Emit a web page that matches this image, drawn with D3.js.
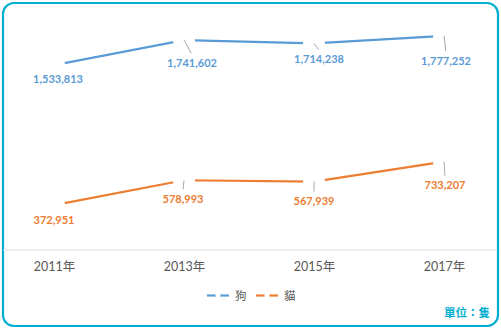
<!DOCTYPE html>
<html><head><meta charset="utf-8">
<script src="https://cdn.jsdelivr.net/npm/d3@7"></script>
<style>
html,body{margin:0;padding:0;background:#fff;}
svg{display:block;}
</style></head>
<body>
<svg id="chart" width="501" height="329"></svg>
<script>
const categories = ["2011年", "2013年", "2015年", "2017年"];
const dogValues = [1533813, 1741602, 1714238, 1777252];
const catValues = [372951, 578993, 567939, 733207];
const seriesNames = ["狗", "貓"];
const seriesColors = ["#5B9BD5", "#ED7D31"];
const unitLabel = "單位：隻";
// label offsets from data point (layout)
const dogLabelOffsets = [[4, 14], [8, 23], [5, 16], [2, 25]];
const catLabelOffsets = [[0, 15], [-1, 19], [0, 20], [1, 24]];

const svg = d3.select("#chart");
const W = 501, H = 329;
const fontLatin = "Lato, 'Noto Sans CJK TC', sans-serif";

svg.append("rect").attr("x", 3).attr("y", 3).attr("width", W - 6).attr("height", H - 6)
  .attr("rx", 11).attr("ry", 11).attr("fill", "#fff").attr("stroke", "#00AECF").attr("stroke-width", 2.2);

const x = d3.scalePoint().domain(categories).range([54, 444]);
const y = d3.scaleLinear().domain([0, 2000000]).range([250, 9]);

// axis baseline
svg.append("line").attr("x1", 3).attr("x2", 497).attr("y1", y(0)).attr("y2", y(0))
  .attr("stroke", "#D9D9D9").attr("stroke-width", 1);

const xAxis = d3.axisBottom(x).tickSize(0).tickPadding(12);
const gx = svg.append("g").attr("transform", `translate(0,${y(0)})`).call(xAxis);
gx.select(".domain").remove();
gx.selectAll("text").attr("font-family", fontLatin).attr("font-size", 12.5).attr("fill", "#595959");

const series = [
  {name: seriesNames[0], values: dogValues, color: seriesColors[0], offsets: dogLabelOffsets},
  {name: seriesNames[1], values: catValues, color: seriesColors[1], offsets: catLabelOffsets}
];

const line = d3.line().x((d, i) => x(categories[i])).y(d => y(d));

series.forEach(s => {
  svg.append("path").datum(s.values).attr("d", line).attr("fill", "none")
    .attr("stroke", s.color).attr("stroke-width", 2.2);
  // white markers hiding the line near points
  svg.selectAll(null).data(s.values).enter().append("circle")
    .attr("cx", (d, i) => x(categories[i])).attr("cy", d => y(d)).attr("r", 11).attr("fill", "#fff");
  // leader lines
  svg.selectAll(null).data(s.values).enter().filter((d, i) => i > 0).append("line")
    .attr("x1", (d, i) => x(categories[i + 1]))
    .attr("y1", (d, i) => y(d))
    .attr("x2", (d, i) => x(categories[i + 1]) + s.offsets[i + 1][0] * 0.9)
    .attr("y2", (d, i) => y(d) + s.offsets[i + 1][1] - 10)
    .attr("stroke", "#A6A6A6").attr("stroke-width", 1);
  // labels
  svg.selectAll(null).data(s.values).enter().append("text")
    .attr("x", (d, i) => x(categories[i]) + s.offsets[i][0])
    .attr("y", (d, i) => y(d) + s.offsets[i][1])
    .attr("dy", "0.35em").attr("text-anchor", "middle")
    .attr("font-family", fontLatin).attr("font-weight", "bold").attr("font-size", 11)
    .attr("fill", s.color).text(d => d3.format(",")(d));
});

// legend
const legend = svg.append("g");
const legendItems = [{x: 207}, {x: 256}];
series.forEach((s, i) => {
  const lx = legendItems[i].x, ly = 295.5;
  legend.append("line").attr("x1", lx).attr("x2", lx + 22).attr("y1", ly).attr("y2", ly)
    .attr("stroke", s.color).attr("stroke-width", 2.2);
  legend.append("circle").attr("cx", lx + 11).attr("cy", ly).attr("r", 2.5).attr("fill", "#fff");
  legend.append("text").attr("x", lx + 28).attr("y", ly).attr("dy", "0.35em")
    .attr("font-family", "'Noto Sans CJK TC', sans-serif").attr("font-size", 11.5)
    .attr("fill", "#595959").text(s.name);
});

svg.append("text").attr("x", 490).attr("y", 313).attr("dy", "0.35em").attr("text-anchor", "end")
  .attr("font-family", "'Noto Sans CJK TC', sans-serif").attr("font-weight", "bold").attr("font-size", 11.5)
  .attr("fill", "#00AECF").text(unitLabel);
</script>
</body></html>
